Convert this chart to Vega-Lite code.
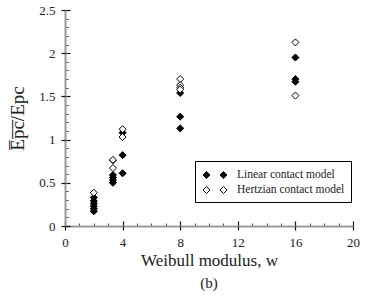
{
  "$schema": "https://vega.github.io/schema/vega-lite/v6.json",
  "width": 288,
  "height": 216,
  "autosize": "none",
  "padding": {"left": 65, "top": 10, "right": 16, "bottom": 74},
  "background": "white",
  "config": {"font": "Liberation Serif", "view": {"stroke": null}},
  "title": {"text": "(b)", "orient": "bottom", "offset": 8, "fontSize": 15, "fontWeight": "normal", "color": "#222", "font": "Liberation Serif"},
  "data": {"values": [
    {"series": "Linear contact model", "w": 2, "ratio": 0.17},
    {"series": "Linear contact model", "w": 2, "ratio": 0.20},
    {"series": "Linear contact model", "w": 2, "ratio": 0.23},
    {"series": "Linear contact model", "w": 2, "ratio": 0.26},
    {"series": "Linear contact model", "w": 2, "ratio": 0.29},
    {"series": "Linear contact model", "w": 2, "ratio": 0.33},
    {"series": "Linear contact model", "w": 3.33, "ratio": 0.76},
    {"series": "Linear contact model", "w": 3.33, "ratio": 0.59},
    {"series": "Linear contact model", "w": 3.33, "ratio": 0.56},
    {"series": "Linear contact model", "w": 3.33, "ratio": 0.53},
    {"series": "Linear contact model", "w": 3.33, "ratio": 0.50},
    {"series": "Linear contact model", "w": 4, "ratio": 1.08},
    {"series": "Linear contact model", "w": 4, "ratio": 0.82},
    {"series": "Linear contact model", "w": 4, "ratio": 0.61},
    {"series": "Linear contact model", "w": 8, "ratio": 1.54},
    {"series": "Linear contact model", "w": 8, "ratio": 1.265},
    {"series": "Linear contact model", "w": 8, "ratio": 1.13},
    {"series": "Linear contact model", "w": 16, "ratio": 1.95},
    {"series": "Linear contact model", "w": 16, "ratio": 1.70},
    {"series": "Linear contact model", "w": 16, "ratio": 1.67},
    {"series": "Hertzian contact model", "w": 2, "ratio": 0.385},
    {"series": "Hertzian contact model", "w": 3.33, "ratio": 0.765},
    {"series": "Hertzian contact model", "w": 3.33, "ratio": 0.67},
    {"series": "Hertzian contact model", "w": 4, "ratio": 1.12},
    {"series": "Hertzian contact model", "w": 4, "ratio": 1.03},
    {"series": "Hertzian contact model", "w": 8, "ratio": 1.70},
    {"series": "Hertzian contact model", "w": 8, "ratio": 1.63},
    {"series": "Hertzian contact model", "w": 8, "ratio": 1.60},
    {"series": "Hertzian contact model", "w": 8, "ratio": 1.58},
    {"series": "Hertzian contact model", "w": 16, "ratio": 2.125},
    {"series": "Hertzian contact model", "w": 16, "ratio": 1.51}
  ]},
  "resolve": {"scale": {"x": "independent", "y": "independent"}},
  "layer": [
    {
      "mark": {"type": "point", "opacity": 0},
      "encoding": {
        "x": {"field": "w", "type": "quantitative", "scale": {"domain": [0, 20], "nice": false, "zero": false},
          "axis": {"orient": "bottom", "values": [1,2,3,5,6,7,9,10,11,13,14,15,17,18,19], "labels": false, "domain": false, "grid": false, "title": null, "tickSize": -3, "tickColor": "#444", "tickWidth": 1}},
        "y": {"field": "ratio", "type": "quantitative", "scale": {"domain": [0, 2.5], "nice": false, "zero": false},
          "axis": {"orient": "left", "values": [0.1,0.2,0.3,0.4,0.6,0.7,0.8,0.9,1.1,1.2,1.3,1.4,1.6,1.7,1.8,1.9,2.1,2.2,2.3,2.4], "labels": false, "domain": false, "grid": false, "title": null, "tickSize": -3, "tickColor": "#444", "tickWidth": 1}}
      }
    },
    {
      "mark": {"type": "point", "opacity": 0},
      "encoding": {
        "x": {"field": "w", "type": "quantitative", "scale": {"domain": [0, 20], "nice": false, "zero": false},
          "axis": {"orient": "bottom", "values": [0,4,8,12,16,20], "labels": false, "domain": true, "domainColor": "#999", "domainWidth": 2, "grid": false, "title": null, "tickSize": -5, "tickColor": "#111", "tickWidth": 1.2}},
        "y": {"field": "ratio", "type": "quantitative", "scale": {"domain": [0, 2.5], "nice": false, "zero": false},
          "axis": {"orient": "left", "values": [0,0.5,1,1.5,2,2.5], "labels": false, "domain": true, "domainColor": "#999", "domainWidth": 2, "grid": false, "title": null, "tickSize": -5, "tickColor": "#111", "tickWidth": 1.2}}
      }
    },
    {
      "mark": {"type": "point", "shape": "diamond", "size": 50, "filled": true, "stroke": "black", "strokeWidth": 1, "opacity": 1},
      "encoding": {
        "x": {"field": "w", "type": "quantitative", "scale": {"domain": [0, 20], "nice": false, "zero": false},
          "axis": {"orient": "bottom", "values": [0,4,8,12,16,20], "labelFlush": false, "domain": false, "grid": false, "title": "Weibull modulus, w", "titleFontSize": 17, "titleFontWeight": "normal", "titleColor": "#222", "titlePadding": 3, "labelFontSize": 13, "labelColor": "#222", "labelPadding": 6, "tickSize": 4, "tickColor": "#111", "tickWidth": 1.2}},
        "y": {"field": "ratio", "type": "quantitative", "scale": {"domain": [0, 2.5], "nice": false, "zero": false},
          "axis": {"orient": "left", "values": [0,0.5,1,1.5,2,2.5], "format": "~g", "labelFlush": false, "domain": false, "grid": false, "title": "E̅p̅c̅/Epc", "titleFontSize": 19, "titleFontWeight": "normal", "titleColor": "#222", "titlePadding": 11, "labelFontSize": 13, "labelColor": "#222", "labelPadding": 6, "tickSize": 4, "tickColor": "#111", "tickWidth": 1.2}},
        "fill": {"field": "series", "type": "nominal",
          "scale": {"domain": ["Linear contact model", "Hertzian contact model"], "range": ["black", "white"]},
          "legend": {"title": null, "orient": "none", "legendX": 130, "legendY": 151, "direction": "vertical",
            "strokeColor": "black", "fillColor": "white", "padding": 6,
            "symbolType": "M -0.8 0 L -0.33 -0.47 L 0.14 0 L -0.33 0.47 Z M 1.46 0 L 1.93 -0.47 L 2.4 0 L 1.93 0.47 Z",
            "symbolSize": 225, "symbolStrokeColor": "black", "symbolStrokeWidth": 1,
            "labelFontSize": 11.5, "labelColor": "#222", "labelOffset": 20, "rowPadding": 1}}
      }
    }
  ]
}
